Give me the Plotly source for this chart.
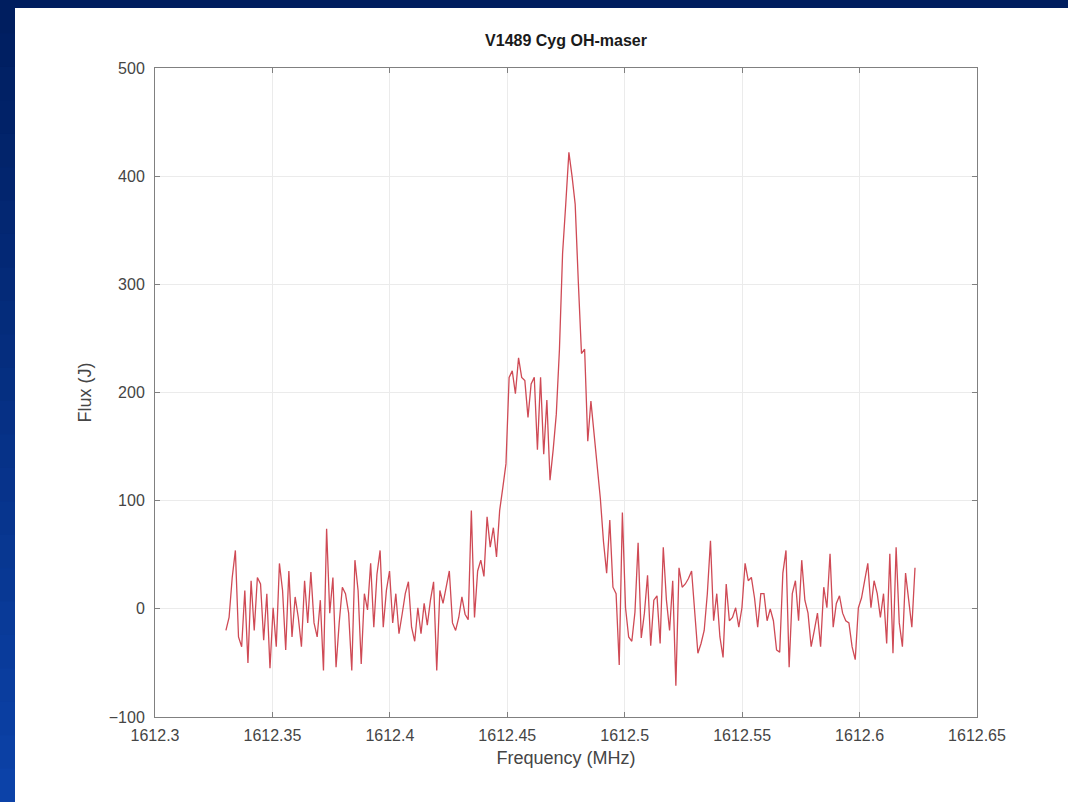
import numpy as np
import plotly.graph_objects as go

# ---- data ----
freq_start = 1612.3302   # MHz, first channel
freq_end = 1612.6236     # MHz, last channel

flux_low = [-20, -8, 29, 54, -26, -35, 17, -50, 26, -20, 29, 23, -29, 14, -55, 1, -35, 42, 17, -38,
            35, -26, 11, -8, -35, 26, -13, 34, -13, -26, 8, -57, 74, -4, 29, -54, -13, 20, 14, -4,
            -57, 45, 17, -51, 14, -1, 42, -17, 32, 54, -17, 17, 35, -13, 14]

flux_line = [-23, -5, 14, 25, -17, -30, 1, -23, 5, -15, 8, 25, -57, 17, 5, 20, 35, -13, -20, -8,
             11, -5, -10, 91, -8, 35, 45, 30, 85, 57, 75, 48, 91, 112, 134, 214, 220, 199, 232, 214,
             211, 177, 208, 214, 147, 214, 143, 193, 119, 147, 180, 240, 329, 374, 422, 400, 374, 302, 236, 240,
             155, 192, 164, 135, 102]

flux_high = [62, 33, 82, 20, 14, -52, 89, 1, -26, -30, -3, 61, -27, -4, 31, -34, 8, 12, -32, 57,
             8, -20, 26, -71, 38, 20, 23, 28, 35, -4, -41, -32, -20, 14, 63, -11, 14, -26, -45, 23,
             -11, -8, 1, -17, 1, 42, 26, 29, 10, -17, 14, 14, -11, 0, -11, -38, -40, 33, 54, -54,
             14, 26, -11, 45, 8, -4, -35, -20, -4, -35, 20, 1, 51, -17, 5, 12, -4, -11, -13, -35,
             -47, 1, 10, 26, 42, 1, 26, 14, -8, 14, -32, 51, -41, 57, -13, -35, 33, 8, -17, 38]

flux = flux_low + flux_line + flux_high
freq = np.linspace(freq_start, freq_end, len(flux))

x_ticks = [1612.3, 1612.35, 1612.4, 1612.45, 1612.5, 1612.55, 1612.6, 1612.65]
x_tick_labels = ["1612.3", "1612.35", "1612.4", "1612.45", "1612.5", "1612.55", "1612.6", "1612.65"]
y_ticks = [-100, 0, 100, 200, 300, 400, 500]

# ---- figure ----
W, H = 1068, 802
ML, MR, MT, MB = 155, 91, 68, 85
pw, ph = W - ML - MR, H - MT - MB

def px_to_paper_x(px):
    return (px - ML) / pw

def py_to_paper_y(py):
    return (H - MB - py) / ph

FONT = "Liberation Sans, Arial, Helvetica"

fig = go.Figure()
fig.add_trace(go.Scatter(x=freq, y=flux, mode="lines",
                         line=dict(color="#cf4a55", width=1.3),
                         showlegend=False, hoverinfo="x+y"))

shapes = []
# blue slide frame (gradient approximated by bands)
top_col = np.array([0, 30, 95])
bot_col = np.array([12, 66, 168])
n = 24
for i in range(n):
    t = i / (n - 1)
    c = (top_col * (1 - t) + bot_col * t).astype(int)
    y0 = i * H / n
    y1 = (i + 1) * H / n + 1
    shapes.append(dict(type="rect", xref="paper", yref="paper", layer="below",
                       x0=px_to_paper_x(-2), x1=px_to_paper_x(15),
                       y0=py_to_paper_y(y1), y1=py_to_paper_y(y0),
                       fillcolor=f"rgb({c[0]},{c[1]},{c[2]})", line=dict(width=0)))
shapes.append(dict(type="rect", xref="paper", yref="paper", layer="below",
                   x0=px_to_paper_x(-2), x1=px_to_paper_x(W + 2),
                   y0=py_to_paper_y(8), y1=py_to_paper_y(-2),
                   fillcolor="rgb(0,30,95)", line=dict(width=0)))

axis_common = dict(showline=True, linecolor="#808080", linewidth=1, mirror="ticks",
                   ticks="inside", ticklen=5, tickcolor="#808080",
                   showgrid=True, gridcolor="#ebebeb", gridwidth=1, zeroline=False,
                   tickfont=dict(family=FONT, size=16, color="#454545"))

fig.update_layout(
    width=W, height=H,
    margin=dict(l=ML, r=MR, t=MT, b=MB),
    paper_bgcolor="white", plot_bgcolor="white",
    shapes=shapes,
    title=dict(text="<b>V1489 Cyg OH-maser</b>", x=0.5, xref="paper", xanchor="center",
               y=1 - 40 / H, yref="container", yanchor="middle",
               font=dict(family=FONT, size=16, color="#1a1a1a")),
    xaxis=dict(range=[1612.3, 1612.65], tickvals=x_ticks, ticktext=x_tick_labels,
               ticklabelstandoff=4,
               title=dict(text="Frequency (MHz)", standoff=8,
                          font=dict(family=FONT, size=18, color="#454545")),
               **axis_common),
    yaxis=dict(range=[-100, 500], tickvals=y_ticks, ticklabelstandoff=6,
               title=dict(text="Flux (J)", standoff=12,
                          font=dict(family=FONT, size=18, color="#454545")),
               **axis_common),
)

fig.write_html("out.html",
               config={"displayModeBar": False},
               post_script="document.body.style.margin='0px';document.body.style.overflow='hidden';")
